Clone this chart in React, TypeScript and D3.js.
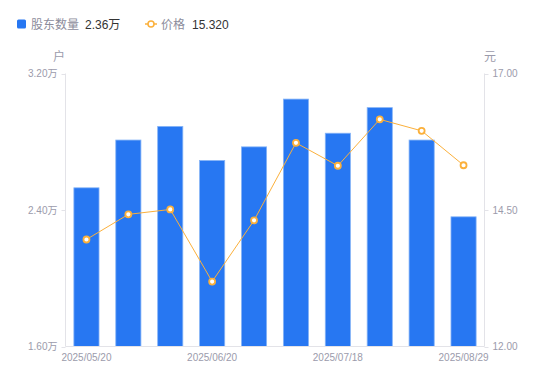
import React from "react";
import * as d3 from "d3";

const categories = [
  "2025/05/20", "2025/05/30", "2025/06/10", "2025/06/20", "2025/06/30",
  "2025/07/10", "2025/07/18", "2025/07/31", "2025/08/15", "2025/08/29",
];
const holders = [2.53, 2.81, 2.89, 2.69, 2.77, 3.05, 2.85, 3.0, 2.81, 2.36];
const prices = [13.96, 14.42, 14.51, 13.19, 14.31, 15.73, 15.31, 16.16, 15.95, 15.32];
const leftTicks = [1.6, 2.4, 3.2];
const rightTicks = [12, 14.5, 17];
const shownLabels = ["2025/05/20", "2025/06/20", "2025/07/18", "2025/08/29"];

const W = 550, H = 381;
const M = { left: 65.5, right: 484.5, top: 73.5, bottom: 346.5 };
const BLUE = "#2777f2";
const ORANGE = "#fbb03b";
const AXIS = "#e3e3e8";
const LABEL = "#9b9bab";
const FONT = "'Liberation Sans', Arial, 'Noto Sans CJK SC', sans-serif";

export default function App() {
  const x = d3.scaleBand<string>().domain(categories).range([M.left, M.right]).paddingInner(0).paddingOuter(0);
  const yL = d3.scaleLinear().domain([1.6, 3.2]).range([M.bottom, M.top]);
  const yR = d3.scaleLinear().domain([12, 17]).range([M.bottom, M.top]);
  const bw = x.bandwidth() * 0.6;
  const cx = (c: string) => (x(c) as number) + x.bandwidth() / 2;
  const line = d3.line<number>().x((_, i) => cx(categories[i])).y((v) => yR(v));

  return (
    <svg width={W} height={H} style={{ position: "absolute", left: 0, top: 0, fontFamily: FONT }}>
      <rect width={W} height={H} fill="#fff" />
      {/* legend */}
      <g>
        <rect x={17} y={19.5} width={9} height={9} rx={1.5} fill={BLUE} />
        <text x={31} y={28.5} fontSize={12} fill="#8c8c9b">股东数量</text>
        <text x={85} y={28.5} fontSize={12} fill="#333">2.36万</text>
        <line x1={145} x2={157} y1={24} y2={24} stroke={ORANGE} strokeWidth={1.5} />
        <circle cx={151} cy={24} r={3} fill="#fff" stroke={ORANGE} strokeWidth={1.5} />
        <text x={161} y={28.5} fontSize={12} fill="#8c8c9b">价格</text>
        <text x={192} y={28.5} fontSize={12} fill="#333">15.320</text>
      </g>
      {/* units */}
      <text x={59} y={61} fontSize={12} fill={LABEL} textAnchor="middle">户</text>
      <text x={490} y={61} fontSize={12} fill={LABEL} textAnchor="middle">元</text>
      {/* bars */}
      {holders.map((v, i) => (
        <rect key={i} x={cx(categories[i]) - bw / 2} y={yL(v)} width={bw} height={M.bottom - yL(v)}
          fill={BLUE} stroke="#86b4f7" strokeWidth={0.8} />
      ))}
      {/* axes */}
      <line x1={M.left} x2={M.left} y1={M.top} y2={M.bottom} stroke={AXIS} />
      <line x1={M.right} x2={M.right} y1={M.top} y2={M.bottom} stroke={AXIS} />
      <line x1={M.left} x2={M.right} y1={M.bottom} y2={M.bottom} stroke={AXIS} />
      {leftTicks.map((t) => (
        <g key={t}>
          <line x1={M.left - 4} x2={M.left} y1={Math.round(yL(t)) + 0.5} y2={Math.round(yL(t)) + 0.5} stroke={AXIS} />
          <text x={M.left - 8} y={yL(t) + 3.5} fontSize={10} fill={LABEL} textAnchor="end">{t.toFixed(2)}万</text>
        </g>
      ))}
      {rightTicks.map((t) => (
        <g key={t}>
          <line x1={M.right} x2={M.right + 4} y1={Math.round(yR(t)) + 0.5} y2={Math.round(yR(t)) + 0.5} stroke={AXIS} />
          <text x={M.right + 8} y={yR(t) + 3.5} fontSize={10} fill={LABEL} textAnchor="start">{t.toFixed(2)}</text>
        </g>
      ))}
      {shownLabels.map((c) => (
        <text key={c} x={cx(c)} y={361} fontSize={10} fill={LABEL} textAnchor="middle">{c}</text>
      ))}
      {/* price line */}
      <path d={line(prices) || ""} fill="none" stroke={ORANGE} strokeWidth={1} />
      {prices.map((v, i) => (
        <circle key={i} cx={cx(categories[i])} cy={yR(v)} r={3} fill="#fff" stroke={ORANGE} strokeWidth={1.8} />
      ))}
    </svg>
  );
}
